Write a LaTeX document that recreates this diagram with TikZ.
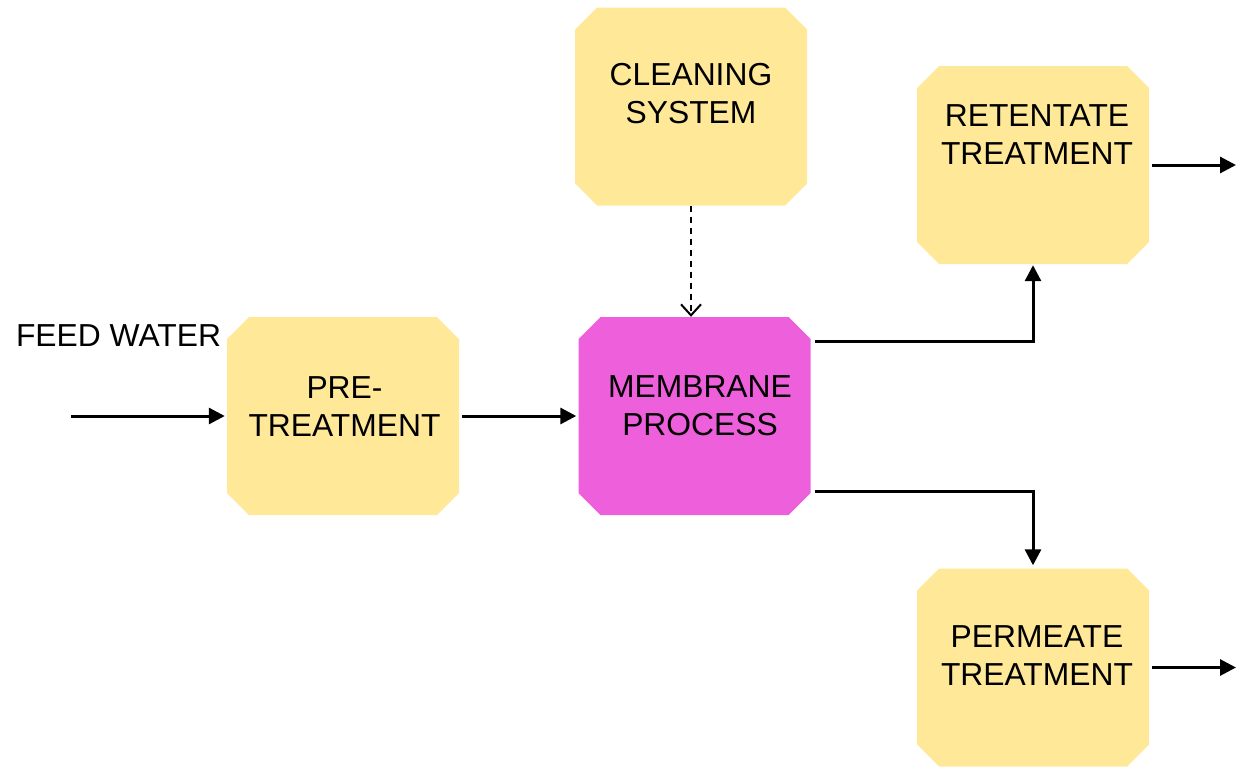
\documentclass[tikz,border=0pt]{standalone}
\usepackage{fontspec}
\setmainfont{Liberation Sans}
\usetikzlibrary{arrows.meta,positioning}

\definecolor{boxyellow}{HTML}{FFE999}
\definecolor{boxpink}{HTML}{EE5FDB}

\tikzset{
  unit/.style={rectangle,inner sep=0pt,minimum width=232pt,
    minimum height=198pt,draw=none,
    path picture={\fill[#1]
      ([xshift=22pt]path picture bounding box.north west)
      -- ([xshift=-22pt]path picture bounding box.north east)
      -- ([yshift=-22pt]path picture bounding box.north east)
      -- ([yshift=22pt]path picture bounding box.south east)
      -- ([xshift=-22pt]path picture bounding box.south east)
      -- ([xshift=22pt]path picture bounding box.south west)
      -- ([yshift=22pt]path picture bounding box.south west)
      -- ([yshift=-22pt]path picture bounding box.north west) -- cycle;}},
  unit/.default=boxyellow,
  lbl/.style={align=center,inner sep=0pt,font=\fontsize{31.8}{38}\selectfont},
  flow/.style={line width=3pt,-{Triangle[length=16pt,width=16pt]}},
  wash/.style={line width=2pt,dash pattern=on 6pt off 5pt,
    -{Straight Barb[length=11pt,width=20pt,line width=2pt]}}
}

\begin{document}
\begin{tikzpicture}[x=1pt,y=-1pt]
\useasboundingbox (0,0) rectangle (1236,766);

\node[unit] (clean) at (691,106.5){};
\node[unit] (ret) at (1033,165){};
\node[unit] (pre) at (343,416){};
\node[unit=boxpink] (mem) at (694.5,416){};
\node[unit] (perm) at (1033,667.5){};

\node[lbl] (cleantxt) at (691,94){CLEANING\\SYSTEM};
\node[lbl] (rettxt) at (1037,135){RETENTATE\\TREATMENT};
\node[lbl] (pretxt) at (344.5,407){PRE-\\TREATMENT};
\node[lbl] (memtxt) at (700,405.5){MEMBRANE\\PROCESS};
\node[lbl] (permtxt) at (1037,656){PERMEATE\\TREATMENT};
\node[lbl] (feed) at (118.5,336){FEED WATER};

\coordinate (feedin) at (71,416);
\coordinate (retout) at (1236,165);
\coordinate (permout) at (1236,667.5);

\draw[flow,shorten >=2pt] (feedin) -- (pre);
\draw[flow,shorten <=3pt,shorten >=2pt] (pre) -- (mem);
\draw[wash] (clean.south) -- (clean.south |- mem.north);
\draw[flow] ([shift={(4,-75)}]mem.east) -| ([yshift=-1pt]ret.south);
\draw[flow,shorten >=3pt] ([shift={(4,75)}]mem.east) -| (perm.north);
\draw[flow,shorten <=3pt] (ret.east) -- (retout);
\draw[flow,shorten <=3pt] (perm.east) -- (permout);

\end{tikzpicture}
\end{document}
